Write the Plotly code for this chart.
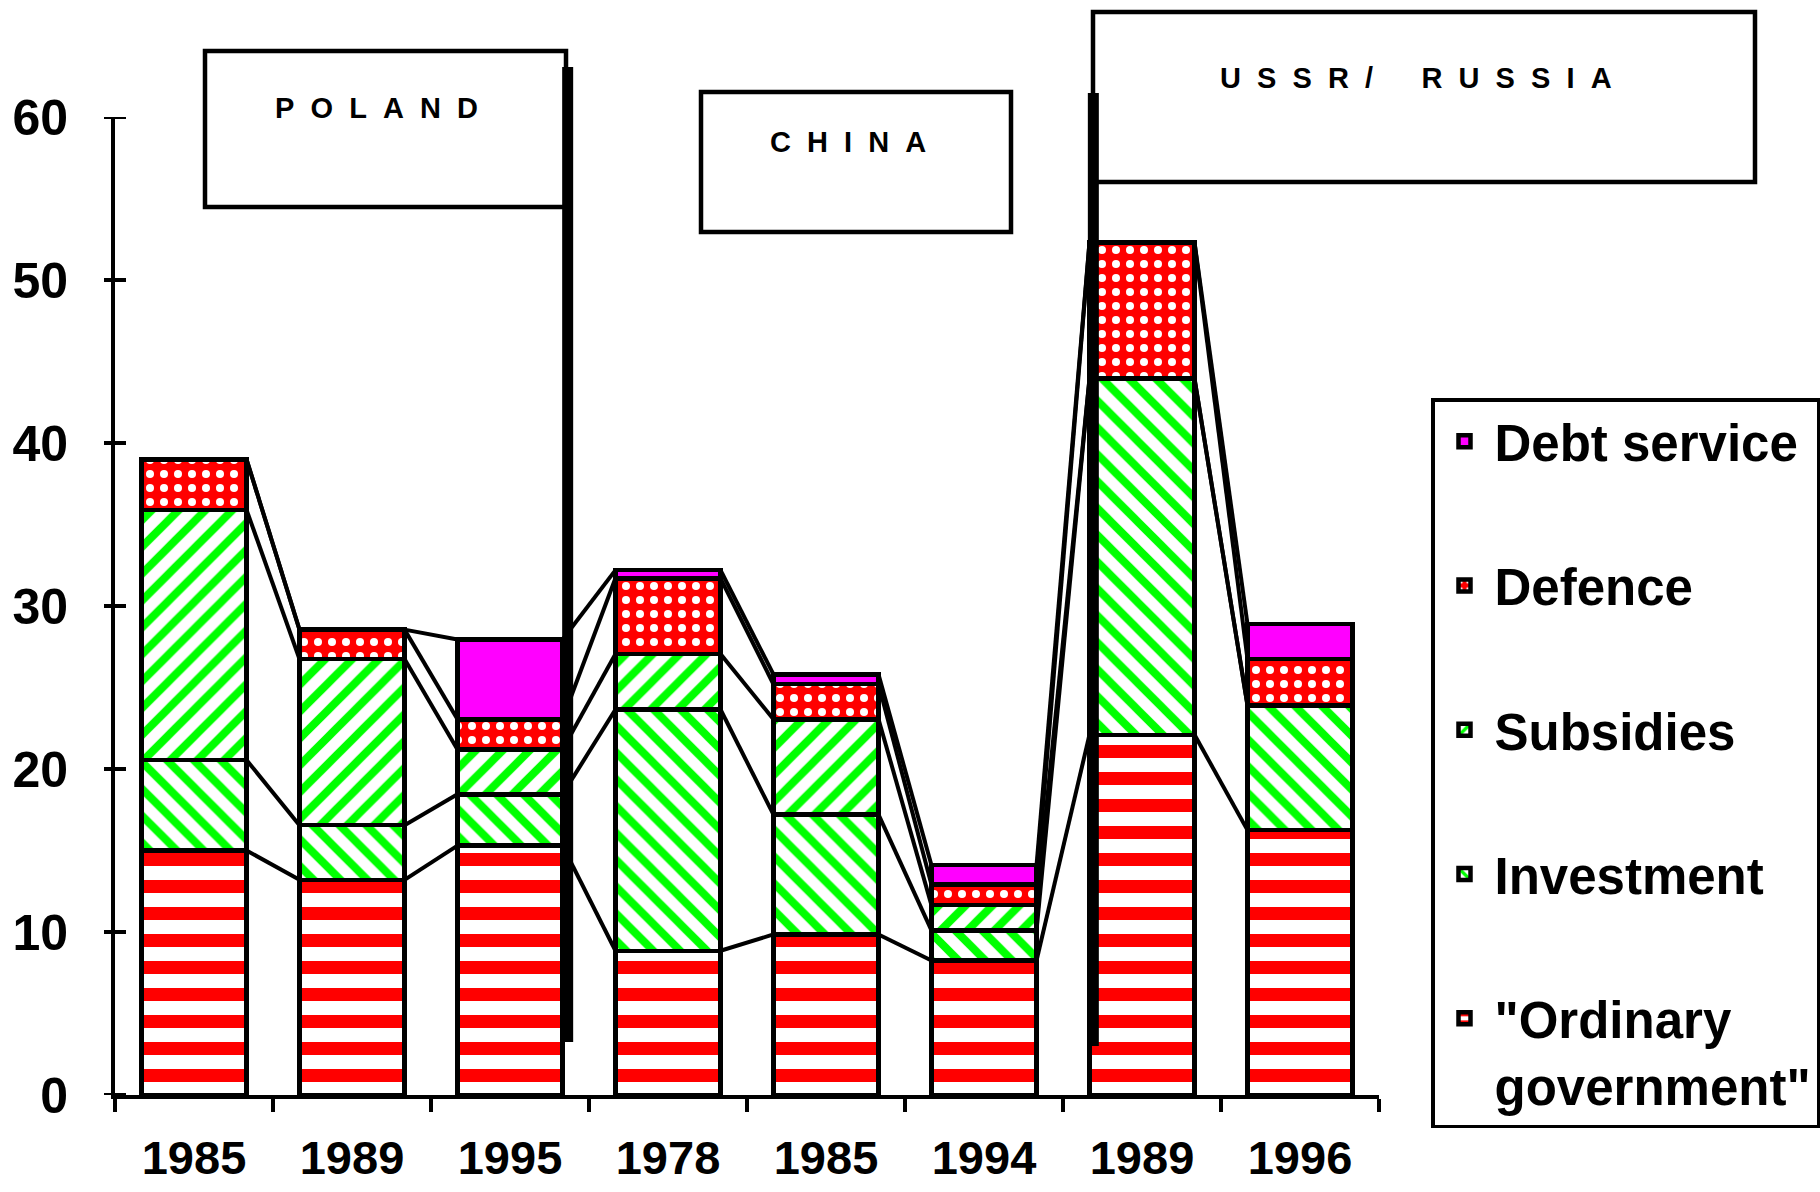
import plotly.graph_objects as go

# ---- data -------------------------------------------------------------
years = ["1985", "1989", "1995", "1978", "1985", "1994", "1989", "1996"]

ordinary_government = [15.0, 13.2, 15.3, 8.85, 9.85, 8.25, 22.1, 16.25]
investment = [5.55, 3.35, 3.15, 14.8, 7.35, 1.85, 21.85, 7.65]
subsidies = [15.35, 10.2, 2.75, 3.4, 5.85, 1.55, 0.0, 0.0]
defence = [3.1, 1.8, 1.85, 4.65, 2.15, 1.25, 8.35, 2.85]
debt_service = [0.0, 0.0, 4.9, 0.5, 0.6, 1.2, 0.0, 2.15]

y_ticks = [0, 10, 20, 30, 40, 50, 60]

country_labels = ["P\u00a0\u00a0O\u00a0\u00a0L\u00a0\u00a0A\u00a0\u00a0N\u00a0\u00a0D",
                  "C\u00a0\u00a0H\u00a0\u00a0I\u00a0\u00a0N\u00a0\u00a0A",
                  "U\u00a0\u00a0S\u00a0\u00a0S\u00a0\u00a0R\u00a0\u00a0/\u00a0\u00a0\u00a0\u00a0\u00a0\u00a0"
                  "R\u00a0\u00a0U\u00a0\u00a0S\u00a0\u00a0S\u00a0\u00a0I\u00a0\u00a0A"]

# ---- styling ------------------------------------------------------------
W, H = 1820, 1192
M_L, M_R, M_T, M_B = 115, 441, 117, 97
PLOT_W = W - M_L - M_R
PLOT_H = H - M_T - M_B
FONT = "Liberation Sans, Arial, sans-serif"
BAR_W = 0.665
RED, GREEN, MAGENTA = "#ff0000", "#00ff00", "#ff00ff"


def px_x(px):
    """page pixel column -> paper x"""
    return (px - M_L) / PLOT_W


def px_y(py):
    """page pixel row -> paper y"""
    return (H - M_B - py) / PLOT_H


series = [
    ("\"Ordinary<br>government\"", ordinary_government,
     dict(shape="-", fgcolor=RED, bgcolor="white", size=27, solidity=0.48, fillmode="replace")),
    ("Investment", investment,
     dict(shape="\\", fgcolor=GREEN, bgcolor="white", size=19, solidity=0.42, fillmode="replace")),
    ("Subsidies", subsidies,
     dict(shape="/", fgcolor=GREEN, bgcolor="white", size=19, solidity=0.42, fillmode="replace")),
    ("Defence", defence,
     dict(shape=".", fgcolor="white", bgcolor=RED, size=14, solidity=0.26, fillmode="replace")),
    ("Debt service", debt_service,
     dict(shape="", fgcolor=MAGENTA, bgcolor=MAGENTA, fillmode="replace")),
]

xs = list(range(len(years)))
fig = go.Figure()

# stacked bars (legend lists the top layer first)
for i, (name, vals, pattern) in enumerate(series):
    fig.add_trace(go.Bar(
        x=xs, y=vals, name=name, width=BAR_W,
        legendgroup=f"g{i}", legendrank=(len(series) - i) * 10,
        marker=dict(color=pattern["bgcolor"] if pattern["shape"] == "" else "white",
                    pattern=pattern,
                    line=dict(color="black", width=4.5)),
    ))

# series lines joining the top of every layer between neighbouring bars
cum = [0.0] * len(years)
for name, vals, _ in series:
    cum = [c + v for c, v in zip(cum, vals)]
    lx, ly = [], []
    for i in range(len(years) - 1):
        lx += [xs[i] + BAR_W / 2, xs[i + 1] - BAR_W / 2, None]
        ly += [cum[i], cum[i + 1], None]
    fig.add_trace(go.Scatter(x=lx, y=ly, mode="lines", showlegend=False,
                             hoverinfo="skip",
                             line=dict(color="black", width=4)))

shapes = []
# y ticks crossing the axis line
for t in y_ticks:
    shapes.append(dict(type="line", xref="paper", yref="y",
                       x0=px_x(M_L - 11), x1=px_x(M_L + 11), y0=t, y1=t,
                       line=dict(color="black", width=4)))

# country boxes
boxes = [(205, 566, 51, 207), (701, 1011, 92, 232), (1093, 1755, 12, 182)]
for x0, x1, y0, y1 in boxes:
    shapes.append(dict(type="rect", xref="paper", yref="paper",
                       x0=px_x(x0), x1=px_x(x1), y0=px_y(y1), y1=px_y(y0),
                       fillcolor="white", line=dict(color="black", width=4.5),
                       layer="above"))

# thick dividers between the countries
dividers = [(2.365, 67, 1042), (5.692, 93, 1046)]
for xd, top, bottom in dividers:
    shapes.append(dict(type="line", xref="x", yref="paper",
                       x0=xd, x1=xd, y0=px_y(bottom), y1=px_y(top),
                       line=dict(color="black", width=11), layer="above"))

annotations = []
label_pos = [(376, 108), (848, 142), (1416, 78)]
for text, (cx, cy) in zip(country_labels, label_pos):
    annotations.append(dict(text=text, xref="paper", yref="paper",
                            x=px_x(cx), y=px_y(cy), showarrow=False,
                            xanchor="center", yanchor="middle",
                            font=dict(family=FONT, size=29, color="black", weight="bold")))

fig.update_layout(
    width=W, height=H,
    margin=dict(l=M_L, r=M_R, t=M_T, b=M_B, pad=0, autoexpand=False),
    barmode="stack",
    paper_bgcolor="white", plot_bgcolor="white",
    font=dict(family=FONT, color="black"),
    shapes=shapes,
    annotations=annotations,
    showlegend=True,
    legend=dict(
        x=px_x(1431), y=px_y(398), xanchor="left", yanchor="top",
        traceorder="grouped", tracegroupgap=75,
        bordercolor="black", borderwidth=3.5, bgcolor="white",
        valign="top", itemwidth=50,
        font=dict(family=FONT, size=51, color="black", weight="bold"),
    ),
    xaxis=dict(
        range=[-0.5, len(years) - 0.5],
        tickmode="array", tickvals=xs, ticktext=years,
        ticks="", showgrid=False, zeroline=False, automargin=False,
        showline=True, linecolor="black", linewidth=4,
        tickfont=dict(family=FONT, size=47, color="black", weight="bold"),
        ticklabelstandoff=19,
        minor=dict(tickmode="array",
                   tickvals=[x - 0.5 for x in xs] + [xs[-1] + 0.5],
                   ticks="outside", ticklen=13, tickwidth=4, tickcolor="black",
                   showgrid=False),
    ),
    yaxis=dict(
        range=[0, 60],
        tickmode="array", tickvals=y_ticks,
        ticks="", showgrid=False, zeroline=False, automargin=False,
        showline=True, linecolor="black", linewidth=4,
        tickfont=dict(family=FONT, size=50, color="black", weight="bold"),
        ticklabelstandoff=33,
    ),
)

fig.write_html("out.html")
